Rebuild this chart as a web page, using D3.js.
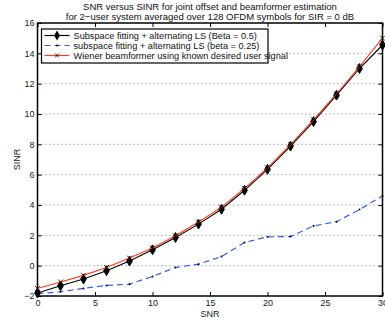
<!DOCTYPE html>
<html>
<head>
<meta charset="utf-8">
<script src="https://cdn.jsdelivr.net/npm/d3@7"></script>
<style>
  body { margin: 0; background: #fff; }
  svg { font-family: "Liberation Sans", Arial, sans-serif; }
</style>
</head>
<body>
<svg id="chart" width="385" height="324"></svg>
<script>
const snr = [0, 2, 4, 6, 8, 10, 12, 14, 16, 18, 20, 22, 24, 26, 28, 30];
const subspace05 = [-1.8, -1.33, -0.88, -0.33, 0.3, 1.05, 1.86, 2.74, 3.72, 4.97, 6.35, 7.88, 9.5, 11.24, 13.0, 14.55];
const subspace025 = [-1.85, -1.72, -1.5, -1.3, -1.22, -0.71, -0.12, 0.1, 0.6, 1.53, 1.9, 1.92, 2.62, 2.9, 3.7, 4.6];
const wiener = [-1.5, -1.08, -0.64, -0.12, 0.5, 1.16, 1.97, 2.88, 3.86, 5.1, 6.45, 7.98, 9.62, 11.32, 13.12, 15.0];
const xTicks = [0, 5, 10, 15, 20, 25, 30];
const yTicks = [-2, 0, 2, 4, 6, 8, 10, 12, 14, 16];
const legendLabels = [
  'Subspace fitting + alternating LS (Beta = 0.5)',
  'subspace fitting + alternating LS (beta = 0.25)',
  'Wiener beamformer using known desired user signal'
];

const svg = d3.select('#chart');
const plotLeft = 37.5, plotRight = 382.5, plotTop = 23, plotBottom = 296;

const x = d3.scaleLinear().domain([0, 30]).range([plotLeft, plotRight]);
const y = d3.scaleLinear().domain([-2, 16]).range([plotBottom, plotTop]);

// horizontal dotted grid
svg.append('g')
  .selectAll('line')
  .data(yTicks.slice(1, -1))
  .join('line')
  .attr('x1', plotLeft).attr('x2', plotRight)
  .attr('y1', (d) => y(d)).attr('y2', (d) => y(d))
  .attr('stroke', '#555')
  .attr('stroke-width', 0.8)
  .attr('stroke-dasharray', '1,3');

// axes, ticks inward on all sides
const axB = svg.append('g').attr('transform', `translate(0,${plotBottom})`)
  .call(d3.axisBottom(x).tickValues(xTicks).tickSize(-4).tickPadding(4));
const axT = svg.append('g').attr('transform', `translate(0,${plotTop})`)
  .call(d3.axisTop(x).tickValues(xTicks).tickSize(-4).tickFormat(''));
const axL = svg.append('g').attr('transform', `translate(${plotLeft},0)`)
  .call(d3.axisLeft(y).tickValues(yTicks).tickSize(-4).tickPadding(3));
const axR = svg.append('g').attr('transform', `translate(${plotRight},0)`)
  .call(d3.axisRight(y).tickValues(yTicks).tickSize(-4).tickFormat(''));

[axB, axT, axL, axR].forEach((a) => {
  a.select('.domain').remove();
  a.selectAll('line').attr('stroke', '#000');
  a.selectAll('text').attr('font-size', 9).attr('fill', '#222')
    .attr('font-family', '"Liberation Sans", Arial, sans-serif');
});

svg.append('rect')
  .attr('x', plotLeft).attr('y', plotTop)
  .attr('width', plotRight - plotLeft).attr('height', plotBottom - plotTop)
  .attr('fill', 'none').attr('stroke', '#000').attr('stroke-width', 1.5);

const line = d3.line().x((d, i) => x(snr[i])).y((d) => y(d));

// blue dashed series
svg.append('path').datum(subspace025)
  .attr('d', line).attr('fill', 'none')
  .attr('stroke', '#2f5cf5').attr('stroke-width', 1.2)
  .attr('stroke-dasharray', '6,4');
svg.append('g').selectAll('circle').data(subspace025).join('circle')
  .attr('cx', (d, i) => x(snr[i])).attr('cy', (d) => y(d))
  .attr('r', 1).attr('fill', '#000');

// black series with diamonds
svg.append('path').datum(subspace05)
  .attr('d', line).attr('fill', 'none')
  .attr('stroke', '#000').attr('stroke-width', 1.1);
const diamond = d3.symbol().type(d3.symbolDiamond).size(28);
svg.append('g').selectAll('path').data(subspace05).join('path')
  .attr('transform', (d, i) => `translate(${x(snr[i])},${y(d)})`)
  .attr('d', diamond).attr('fill', '#000').attr('stroke', '#000');

// red series with x markers
svg.append('path').datum(wiener)
  .attr('d', line).attr('fill', 'none')
  .attr('stroke', '#ff3b1f').attr('stroke-width', 1.1);
svg.append('g').selectAll('path').data(wiener).join('path')
  .attr('transform', (d, i) => `translate(${x(snr[i])},${y(d)})`)
  .attr('d', 'M-2.5,-2.5L2.5,2.5M-2.5,2.5L2.5,-2.5')
  .attr('stroke', '#000').attr('stroke-width', 0.8);

// titles
const title = svg.append('text').attr('text-anchor', 'middle')
  .attr('font-size', 9.5).attr('fill', '#111');
title.append('tspan').attr('x', 210).attr('y', 9.5)
  .text('SNR versus SINR for joint offset and beamformer estimation');
title.append('tspan').attr('x', 210).attr('y', 19.5)
  .text('for 2\u2212user system averaged over 128 OFDM symbols for SIR = 0 dB');

svg.append('text').attr('x', (plotLeft + plotRight) / 2).attr('y', 317)
  .attr('text-anchor', 'middle').attr('font-size', 9).attr('fill', '#222')
  .text('SNR');
svg.append('text')
  .attr('transform', `translate(20,${(plotTop + plotBottom) / 2}) rotate(-90)`)
  .attr('text-anchor', 'middle').attr('font-size', 9).attr('fill', '#222')
  .text('SINR');

// legend
const lg = svg.append('g').attr('transform', 'translate(41.5,29)');
lg.append('rect').attr('width', 226.5).attr('height', 34)
  .attr('fill', '#fff').attr('stroke', '#000').attr('stroke-width', 1.2);
const rows = lg.selectAll('g').data(legendLabels).join('g')
  .attr('transform', (d, i) => `translate(0,${6.5 + i * 10})`);
rows.append('line').attr('x1', 3).attr('x2', 28)
  .attr('stroke', (d, i) => ['#000', '#2f5cf5', '#ff3b1f'][i])
  .attr('stroke-width', 1.2)
  .attr('stroke-dasharray', (d, i) => (i === 1 ? '6,4' : null));
rows.filter((d, i) => i === 0).append('path')
  .attr('transform', 'translate(15.5,0)').attr('d', diamond).attr('fill', '#000');
rows.filter((d, i) => i === 1).append('circle')
  .attr('cx', 15.5).attr('r', 1).attr('fill', '#000');
rows.filter((d, i) => i === 2).append('path')
  .attr('transform', 'translate(15.5,0)')
  .attr('d', 'M-2,-2L2,2M-2,2L2,-2').attr('stroke', '#000').attr('stroke-width', 0.8);
rows.append('text').attr('x', 32).attr('dy', '0.35em')
  .attr('font-size', 9.2).attr('fill', '#111').text((d) => d);
</script>
</body>
</html>
